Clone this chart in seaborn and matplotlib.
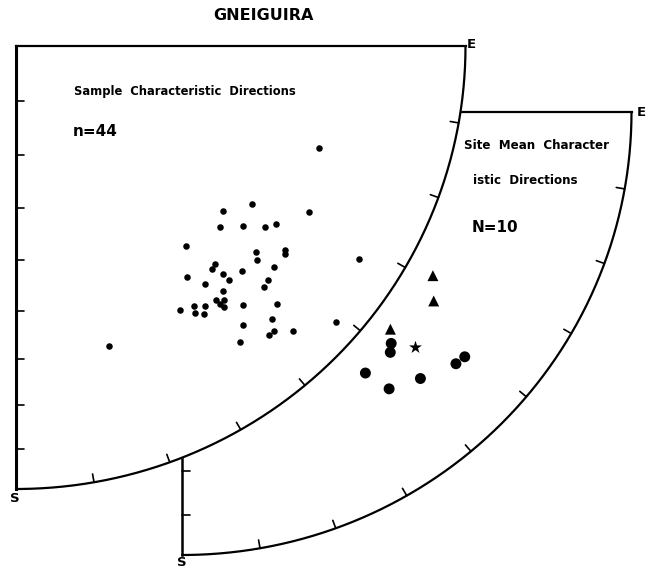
import numpy as np
import pandas as pd
import matplotlib
matplotlib.use("Agg")
import matplotlib.pyplot as plt
import seaborn as sns

# ---- data: equal-area, lower hemisphere, SE quadrant ----
# Sample characteristic directions (declination, inclination, degrees), n = 44
sample_dec = [124.2, 129.0, 119.9, 132.0, 128.9, 126.5, 124.8, 140.0, 131.1, 132.0,
              127.5, 128.1, 122.2, 138.1, 139.1, 138.2, 138.1, 135.3, 131.0, 143.8,
              142.0, 133.3, 134.6, 140.3, 142.1, 141.1, 142.0, 141.8, 139.2, 135.0,
              148.5, 146.1, 146.5, 144.4, 145.3, 141.3, 137.3, 138.2, 139.2, 136.2,
              143.3, 131.2, 108.8, 163.0]
sample_inc = [36.7, 40.5, 25.8, 38.8, 35.4, 31.8, 30.3, 40.7, 30.0, 28.7,
              25.5, 25.0, 10.9, 34.2, 33.8, 31.5, 29.8, 29.4, 24.8, 35.7,
              32.3, 24.0, 23.6, 28.8, 28.3, 27.2, 27.1, 26.1, 23.7, 18.9,
              30.8, 29.9, 28.6, 28.7, 27.4, 20.3, 17.3, 14.9, 14.8, 11.9,
              17.8, 5.9, 29.6, 29.9]

# Site mean characteristic directions, N = 10
site_dec = [123.5, 127.3, 136.6, 138.3, 139.5, 145.3, 143.6, 138.6, 133.0, 131.3]
site_inc = [33.5, 30.3, 33.0, 30.7, 29.4, 29.1, 23.4, 20.9, 17.8, 17.4]
site_kind = ["triangle"] * 3 + ["circle"] * 7

# Overall mean direction (star)
mean_dec = [135.6]
mean_inc = [26.8]

tick_deg = [10, 20, 30, 40, 50, 60, 70, 80]

title = "GNEIGUIRA"
label1 = "Sample  Characteristic  Directions"
count1 = "n=44"
label2a = "Site  Mean  Character"
label2b = "istic  Directions"
count2 = "N=10"

# ---- layout ----
W, H, DPI = 650, 569, 100
RX, RY = 449.5, 443.0          # net radius in pixels (scan is slightly squashed)
C1 = (16, 46)                  # pixel centre of first net
C2 = (182, 112)                # pixel centre of second net
off2 = ((C2[0] - C1[0]) / RX, -(C2[1] - C1[1]) / RY)


def project(dec, inc, off=(0.0, 0.0)):
    dec = np.radians(np.asarray(dec, float) - 90.0)
    rho = np.sqrt(2.0) * np.sin(np.radians((90.0 - np.asarray(inc, float)) / 2.0))
    return rho * np.cos(dec) + off[0], -rho * np.sin(dec) + off[1]


sns.set_style("white")
plt.rcParams["font.family"] = ["DejaVu Sans"]
plt.rcParams["text.color"] = "black"
fig = plt.figure(figsize=(W / DPI, H / DPI), dpi=DPI)
ax = fig.add_axes([0, 0, 1, 1])
ax.set_xlim(-C1[0] / RX, (W - C1[0]) / RX)
ax.set_ylim(-(H - C1[1]) / RY, C1[1] / RY)
ax.set_axis_off()

t = np.linspace(0, np.pi / 2, 400)
tick_len = 0.019
lw = 1.6


def draw_net(off, zf, zl, left_lw):
    ox, oy = off
    xs = np.concatenate([[ox], ox + np.cos(t), [ox]])
    ys = np.concatenate([[oy], oy - np.sin(t), [oy]])
    ax.fill(xs, ys, color="white", zorder=zf)
    ax.plot([ox, ox + 1], [oy, oy], color="black", lw=lw, zorder=zl,
            solid_capstyle="projecting")
    ax.plot([ox, ox], [oy, oy - 1], color="black", lw=left_lw, zorder=zl,
            solid_capstyle="projecting")
    ax.plot(ox + np.cos(t), oy - np.sin(t), color="black", lw=lw, zorder=zl)
    for d in tick_deg:
        a = np.radians(d)
        ax.plot([ox + np.cos(a), ox + (1 - tick_len) * np.cos(a)],
                [oy - np.sin(a), oy - (1 - tick_len) * np.sin(a)],
                color="black", lw=1.2, zorder=zl)
        r = np.sqrt(2.0) * np.sin(np.radians(d / 2.0))
        ax.plot([ox, ox + tick_len * RY / RX], [oy - r, oy - r],
                color="black", lw=1.2, zorder=zl)


draw_net(off2, 1, 2, 1.8)
draw_net((0.0, 0.0), 3, 4, 2.2)

sx, sy = project(sample_dec, sample_inc)
df_s = pd.DataFrame({"x": sx, "y": sy})
sns.scatterplot(data=df_s, x="x", y="y", ax=ax, color="black", s=22,
                edgecolor="black", linewidth=0, zorder=6, legend=False)

tx, ty = project(site_dec, site_inc, off2)
df_site = pd.DataFrame({"x": tx, "y": ty, "kind": site_kind})
sns.scatterplot(data=df_site, x="x", y="y", style="kind",
                markers={"triangle": "^", "circle": "o"},
                s=62, color="black", edgecolor="black",
                linewidth=0, ax=ax, zorder=6, legend=False)

mx, my = project(mean_dec, mean_inc, off2)
sns.scatterplot(x=mx, y=my, marker="*", s=95, color="black",
                edgecolor="black", linewidth=0, ax=ax, zorder=6, legend=False)
ax.set_xlabel("")
ax.set_ylabel("")


def px(x, y):
    return x / W, 1 - y / H


fig.text(*px(263, 15), title, ha="center", va="center", fontsize=11.5,
         fontweight="bold")
fig.text(*px(74, 91), label1, ha="left", va="center", fontsize=8.3,
         fontweight="bold")
fig.text(*px(73, 131), count1, ha="left", va="center", fontsize=11,
         fontweight="bold")
fig.text(*px(464, 146), label2a, ha="left", va="center", fontsize=8.6,
         fontweight="bold")
fig.text(*px(473, 181), label2b, ha="left", va="center", fontsize=8.6,
         fontweight="bold")
fig.text(*px(472, 227), count2, ha="left", va="center", fontsize=11,
         fontweight="bold")
fig.text(*px(467, 44), "E", ha="left", va="center", fontsize=9.5,
         fontweight="bold")
fig.text(*px(637, 112), "E", ha="left", va="center", fontsize=9.5,
         fontweight="bold")
fig.text(*px(15, 499), "S", ha="center", va="center", fontsize=9.5,
         fontweight="bold")
fig.text(*px(182, 562), "S", ha="center", va="center", fontsize=9.5,
         fontweight="bold")

fig.savefig("out.png", dpi=DPI, facecolor="white")
